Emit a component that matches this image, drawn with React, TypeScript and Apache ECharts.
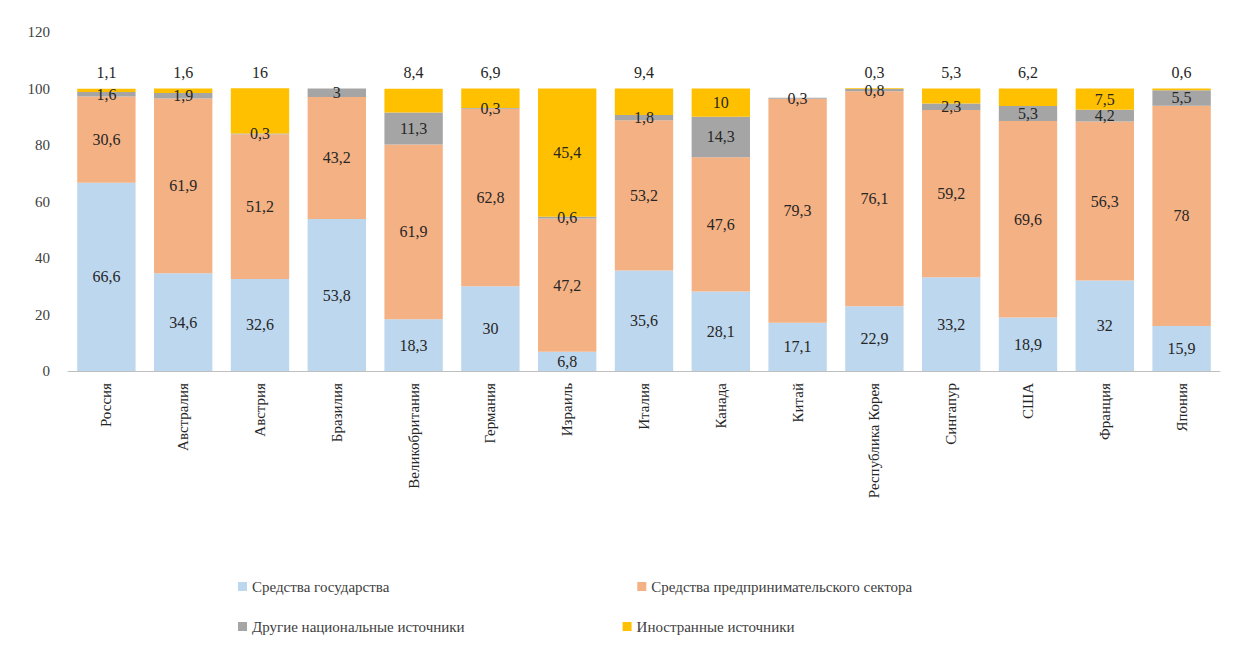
import React, { useEffect, useRef } from 'react';
import * as echarts from 'echarts';

const countries = ['Россия', 'Австралия', 'Австрия', 'Бразилия', 'Великобритания', 'Германия', 'Израиль', 'Италия', 'Канада', 'Китай', 'Республика Корея', 'Сингапур', 'США', 'Франция', 'Япония'];
const stateFunds = [66.6, 34.6, 32.6, 53.8, 18.3, 30, 6.8, 35.6, 28.1, 17.1, 22.9, 33.2, 18.9, 32, 15.9];
const businessFunds = [30.6, 61.9, 51.2, 43.2, 61.9, 62.8, 47.2, 53.2, 47.6, 79.3, 76.1, 59.2, 69.6, 56.3, 78];
const otherNational = [1.6, 1.9, 0.3, 3, 11.3, 0.3, 0.6, 1.8, 14.3, 0.3, 0.8, 2.3, 5.3, 4.2, 5.5];
const foreignFunds = [1.1, 1.6, 16, null, 8.4, 6.9, 45.4, 9.4, 10, null, 0.3, 5.3, 6.2, 7.5, 0.6];
const foreignInside = ['Израиль', 'Канада', 'Франция'];

const fmt = (v: number) => String(v).replace('.', ',');
const font = 'Liberation Serif, serif';

export default function App() {
  const ref = useRef<HTMLDivElement>(null);
  useEffect(() => {
    const chart = echarts.init(ref.current!, null, { renderer: 'svg' });
    const lbl = { show: true, color: '#262626', fontFamily: font, fontSize: 16, formatter: (p: any) => fmt(p.value) };
    const mk = (name: string, data: any[], color: string) => ({
      name, type: 'bar', stack: 'a', barWidth: '76%', data, itemStyle: { color }, label: lbl,
    });
    const legendText = { fontFamily: font, fontSize: 15, color: '#404040' };
    chart.setOption({
      animation: false,
      textStyle: { fontFamily: font },
      grid: { left: 60, right: 20, top: 24, bottom: 278 },
      legend: [
        { left: 225, top: 566, itemWidth: 9, itemHeight: 9, itemGap: 248, icon: 'rect', textStyle: legendText, data: ['Средства государства', 'Средства предпринимательского сектора'] },
        { left: 225, top: 606, itemWidth: 9, itemHeight: 9, itemGap: 158, icon: 'rect', textStyle: legendText, data: ['Другие национальные источники', 'Иностранные источники'] },
      ],
      xAxis: {
        type: 'category', data: countries,
        axisLine: { lineStyle: { color: '#bfbfbf' } }, axisTick: { show: false },
        axisLabel: { rotate: 90, color: '#262626', fontSize: 15, fontFamily: font, margin: 12 },
      },
      yAxis: {
        type: 'value', min: 0, max: 120, interval: 20,
        splitLine: { show: false },
        axisLabel: { color: '#404040', fontSize: 15, fontFamily: font, margin: 18 },
      },
      series: [
        mk('Средства государства', stateFunds, '#bdd7ee'),
        mk('Средства предпринимательского сектора', businessFunds, '#f4b183'),
        mk('Другие национальные источники', otherNational, '#a5a5a5'),
        mk('Иностранные источники', foreignFunds.map((v, i) => ({
          value: v,
          label: { position: foreignInside.includes(countries[i]) ? 'inside' : 'top', distance: 8 },
        })), '#ffc000'),
      ],
    });
    return () => chart.dispose();
  }, []);
  return <div ref={ref} style={{ width: 1232, height: 641 }} />;
}
